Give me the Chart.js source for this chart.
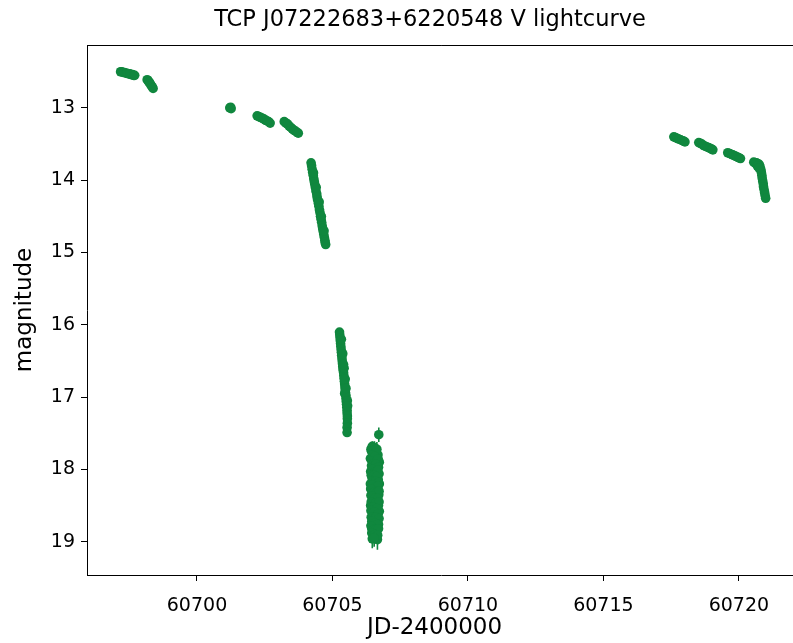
<!DOCTYPE html>
<html>
<head>
<meta charset="utf-8">
<script src="https://cdn.jsdelivr.net/npm/chart.js@4.4.1/dist/chart.umd.min.js"></script>
<style>
  html, body { margin: 0; padding: 0; background: #fff; overflow: hidden; }
  #lc { display: block; }
</style>
</head>
<body>
<canvas id="lc" width="800" height="643"></canvas>
<script>
var jd = [
  60697.18, 60697.22, 60697.27, 60697.32, 60697.37, 60697.42, 60697.47, 60697.52, 60697.57, 60697.62, 60697.66, 60697.70,
  60698.16, 60698.19, 60698.22, 60698.25, 60698.28, 60698.31, 60698.35, 60698.38,
  60701.21, 60701.24, 60701.26,
  60702.22, 60702.28, 60702.34, 60702.40, 60702.46, 60702.52, 60702.58, 60702.64, 60702.70,
  60703.22, 60703.28, 60703.34, 60703.40, 60703.46, 60703.52, 60703.58, 60703.64, 60703.70, 60703.74,
  60704.21, 60704.23, 60704.25, 60704.27, 60704.29, 60704.31, 60704.33, 60704.35, 60704.37, 60704.39,
  60704.42, 60704.43, 60704.45, 60704.48, 60704.50, 60704.52, 60704.54, 60704.56, 60704.58, 60704.60,
  60704.62, 60704.64, 60704.66, 60704.68, 60704.70, 60704.72, 60704.73, 60704.75,
  60704.30, 60704.40, 60704.51, 60704.59, 60704.69,
  60705.26, 60705.27, 60705.28, 60705.29, 60705.30, 60705.31, 60705.32, 60705.33, 60705.34, 60705.35,
  60705.36, 60705.37, 60705.38, 60705.39, 60705.41, 60705.42, 60705.43, 60705.44, 60705.45, 60705.46,
  60705.47, 60705.48, 60705.50, 60705.50, 60705.51, 60705.52, 60705.53, 60705.54, 60705.54, 60705.55,
  60705.55, 60705.55, 60705.54, 60705.54, 60705.43, 60705.45, 60705.55,
  60705.33, 60705.38, 60705.41, 60705.47, 60705.50, 60705.56,
  60706.42, 60706.47, 60706.55, 60706.71, 60706.68, 60706.40, 60706.50, 60706.60, 60706.73, 60706.44,
  60706.57, 60706.66, 60706.41, 60706.52, 60706.62, 60706.72, 60706.46, 60706.58, 60706.69, 60706.40,
  60706.51, 60706.63, 60706.73, 60706.45, 60706.55, 60706.67, 60706.42, 60706.60, 60706.71, 60706.48,
  60706.53, 60706.65, 60706.41, 60706.58, 60706.70, 60706.46, 60706.62, 60706.73, 60706.43, 60706.55,
  60706.67, 60706.49, 60706.61, 60706.70, 60706.45, 60706.57, 60706.65, 60706.50, 60706.62, 60706.47,
  60706.66,
  60706.44, 60706.52, 60706.60, 60706.64, 60706.48, 60706.56, 60706.45, 60706.64, 60706.69, 60706.48,
  60706.53, 60706.61, 60706.70, 60706.47, 60706.57, 60706.67, 60706.43, 60706.55, 60706.63, 60706.48,
  60706.60, 60706.70, 60706.46, 60706.57, 60706.68, 60706.41, 60706.51, 60706.63, 60706.72, 60706.46,
  60706.56, 60706.67, 60706.43, 60706.60, 60706.72, 60706.50, 60706.64, 60706.42, 60706.55, 60706.68,
  60706.48, 60706.61, 60706.72, 60706.45, 60706.56, 60706.66, 60706.42, 60706.53, 60706.61, 60706.70,
  60706.45, 60706.57, 60706.67, 60706.54,
  60717.60, 60717.66, 60717.72, 60717.78, 60717.84, 60717.90, 60717.96, 60718.01,
  60718.52, 60718.58, 60718.64, 60718.70, 60718.76, 60718.82, 60718.88, 60718.94, 60719.00, 60719.04,
  60719.59, 60719.65, 60719.71, 60719.77, 60719.83, 60719.89, 60719.95, 60720.01, 60720.06,
  60720.55, 60720.60, 60720.65, 60720.70, 60720.75, 60720.78, 60720.81, 60720.83, 60720.85, 60720.86,
  60720.88, 60720.90, 60720.91, 60720.93, 60720.95, 60720.97, 60720.99, 60720.68, 60720.74
];
var mag = [
  12.50, 12.50, 12.51, 12.51, 12.52, 12.52, 12.53, 12.53, 12.54, 12.54, 12.55, 12.55,
  12.61, 12.62, 12.64, 12.65, 12.67, 12.69, 12.71, 12.73,
  13.00, 12.99, 13.01,
  13.11, 13.12, 13.13, 13.14, 13.15, 13.17, 13.18, 13.19, 13.21,
  13.19, 13.21, 13.22, 13.25, 13.27, 13.29, 13.31, 13.32, 13.34, 13.35,
  13.76, 13.80, 13.85, 13.89, 13.93, 13.98, 14.02, 14.06, 14.10, 14.15,
  14.19, 14.23, 14.27, 14.32, 14.36, 14.41, 14.45, 14.50, 14.54, 14.58,
  14.63, 14.67, 14.71, 14.75, 14.79, 14.83, 14.86, 14.89,
  13.90, 14.10, 14.30, 14.50, 14.70,
  16.10, 16.14, 16.18, 16.22, 16.26, 16.30, 16.34, 16.38, 16.42, 16.46,
  16.50, 16.54, 16.58, 16.62, 16.66, 16.70, 16.74, 16.78, 16.82, 16.86,
  16.90, 16.94, 16.98, 17.02, 17.06, 17.10, 17.14, 17.18, 17.22, 17.26,
  17.30, 17.36, 17.42, 17.49, 16.60, 16.95, 17.05,
  16.20, 16.40, 16.55, 16.75, 16.88, 17.12,
  17.72, 17.68, 17.70, 17.52, 17.80, 17.85, 17.88, 17.84, 17.90, 17.95,
  17.98, 17.96, 18.03, 18.05, 18.02, 18.06, 18.12, 18.10, 18.14, 18.20,
  18.18, 18.22, 18.20, 18.28, 18.30, 18.27, 18.36, 18.38, 18.35, 18.42,
  18.45, 18.44, 18.50, 18.52, 18.50, 18.58, 18.60, 18.58, 18.66, 18.65,
  18.68, 18.74, 18.72, 18.76, 18.82, 18.80, 18.84, 18.90, 18.88, 18.96,
  18.97,
  17.75, 17.74, 17.76, 17.72, 17.80, 17.82, 17.88, 17.88, 17.86, 17.93,
  17.95, 17.93, 17.97, 18.00, 18.04, 18.01, 18.08, 18.08, 18.10, 18.16,
  18.16, 18.18, 18.22, 18.24, 18.23, 18.27, 18.32, 18.32, 18.30, 18.37,
  18.40, 18.40, 18.45, 18.46, 18.45, 18.52, 18.54, 18.57, 18.59, 18.62,
  18.66, 18.66, 18.68, 18.72, 18.74, 18.76, 18.78, 18.83, 18.83, 18.82,
  18.88, 18.90, 18.91, 18.95,
  13.40, 13.41, 13.42, 13.43, 13.44, 13.45, 13.46, 13.47,
  13.48, 13.49, 13.50, 13.52, 13.53, 13.54, 13.55, 13.56, 13.57, 13.58,
  13.62, 13.63, 13.64, 13.65, 13.66, 13.67, 13.68, 13.69, 13.70,
  13.75, 13.76, 13.76, 13.77, 13.78, 13.81, 13.85, 13.89, 13.93, 13.97,
  14.01, 14.05, 14.09, 14.13, 14.17, 14.21, 14.25, 13.80, 13.83
];
var err = [
  0.01, 0.01, 0.01, 0.01, 0.01, 0.01, 0.01, 0.01, 0.01, 0.01, 0.01, 0.01,
  0.01, 0.01, 0.01, 0.01, 0.01, 0.01, 0.01, 0.01,
  0.01, 0.01, 0.01,
  0.01, 0.01, 0.01, 0.01, 0.01, 0.01, 0.01, 0.01, 0.01,
  0.01, 0.01, 0.01, 0.01, 0.01, 0.01, 0.01, 0.01, 0.01, 0.01,
  0.02, 0.02, 0.02, 0.02, 0.02, 0.02, 0.02, 0.02, 0.02, 0.02,
  0.02, 0.02, 0.02, 0.02, 0.02, 0.02, 0.02, 0.02, 0.02, 0.02,
  0.02, 0.02, 0.02, 0.02, 0.02, 0.02, 0.02, 0.02,
  0.02, 0.02, 0.02, 0.02, 0.02,
  0.03, 0.03, 0.03, 0.03, 0.03, 0.03, 0.03, 0.03, 0.03, 0.03,
  0.03, 0.03, 0.03, 0.03, 0.03, 0.03, 0.03, 0.03, 0.03, 0.03,
  0.03, 0.03, 0.03, 0.03, 0.04, 0.04, 0.04, 0.04, 0.04, 0.04,
  0.04, 0.05, 0.05, 0.05, 0.03, 0.04, 0.04,
  0.03, 0.03, 0.03, 0.03, 0.03, 0.03,
  0.08, 0.07, 0.09, 0.10, 0.08, 0.07, 0.10, 0.08, 0.09, 0.06,
  0.11, 0.07, 0.08, 0.09, 0.10, 0.08, 0.07, 0.12, 0.09, 0.08,
  0.10, 0.07, 0.11, 0.09, 0.08, 0.10, 0.07, 0.12, 0.08, 0.09,
  0.10, 0.07, 0.11, 0.08, 0.09, 0.10, 0.07, 0.12, 0.08, 0.11,
  0.09, 0.10, 0.08, 0.12, 0.09, 0.11, 0.10, 0.12, 0.10, 0.13,
  0.14,
  0.08, 0.09, 0.08, 0.10, 0.07, 0.09, 0.08, 0.09, 0.10, 0.08,
  0.09, 0.08, 0.11, 0.09, 0.08, 0.10, 0.09, 0.08, 0.11, 0.09,
  0.10, 0.08, 0.10, 0.09, 0.11, 0.08, 0.10, 0.09, 0.10, 0.11,
  0.09, 0.10, 0.09, 0.11, 0.09, 0.10, 0.08, 0.10, 0.09, 0.11,
  0.10, 0.09, 0.12, 0.11, 0.10, 0.09, 0.12, 0.10, 0.11, 0.12,
  0.11, 0.12, 0.13, 0.12,
  0.01, 0.01, 0.01, 0.01, 0.01, 0.01, 0.01, 0.01,
  0.01, 0.01, 0.01, 0.01, 0.01, 0.01, 0.01, 0.01, 0.01, 0.01,
  0.01, 0.01, 0.01, 0.01, 0.01, 0.01, 0.01, 0.01, 0.01,
  0.01, 0.01, 0.01, 0.01, 0.01, 0.01, 0.01, 0.01, 0.01, 0.01,
  0.01, 0.01, 0.01, 0.01, 0.01, 0.01, 0.01, 0.01, 0.01
];
var xTicks = [60700, 60705, 60710, 60715, 60720];
var yTicks = [13, 14, 15, 16, 17, 18, 19];

var green = '#10873e';
var points = jd.map(function(t, i) { return {x: t, y: mag[i]}; });

// matplotlib-like error bars, drawn under the markers
var errorBars = {
  id: 'errorBars',
  beforeDatasetsDraw: function(chart) {
    var ctx = chart.ctx, xs = chart.scales.x, ys = chart.scales.y;
    ctx.save();
    ctx.strokeStyle = green;
    ctx.lineWidth = 1.6;
    ctx.beginPath();
    for (var i = 0; i < jd.length; i++) {
      var px = xs.getPixelForValue(jd[i]);
      ctx.moveTo(px, ys.getPixelForValue(mag[i] - err[i]));
      ctx.lineTo(px, ys.getPixelForValue(mag[i] + err[i]));
    }
    ctx.stroke();
    ctx.restore();
  }
};

// top frame line, title and x label (placed like the matplotlib figure)
var frame = {
  id: 'frame',
  afterDraw: function(chart) {
    var ctx = chart.ctx, a = chart.chartArea;
    ctx.save();
    ctx.strokeStyle = '#000';
    ctx.lineWidth = 1;
    ctx.beginPath();
    ctx.moveTo(a.left, a.top + 0.5);
    ctx.lineTo(a.right, a.top + 0.5);
    ctx.stroke();
    ctx.fillStyle = '#000';
    ctx.textAlign = 'center';
    ctx.textBaseline = 'middle';
    ctx.font = '22.5px "DejaVu Sans"';
    ctx.fillText('TCP J07222683+6220548 V lightcurve', 430, 20);
    ctx.font = '23px "DejaVu Sans"';
    ctx.fillText('JD-2400000', 434.5, 628);
    ctx.restore();
  }
};

new Chart(document.getElementById('lc'), {
  type: 'scatter',
  data: {
    datasets: [{
      data: points,
      backgroundColor: green,
      borderWidth: 0,
      pointRadius: 4.8,
      pointHoverRadius: 4.8
    }]
  },
  options: {
    responsive: false,
    animation: false,
    events: [],
    layout: { padding: { top: 45, right: 2, left: 0, bottom: 0 } },
    plugins: { legend: { display: false }, tooltip: { enabled: false } },
    scales: {
      x: {
        type: 'linear',
        min: 60695.94,
        max: 60722.08,
        afterFit: function(s) { s.height = 68; },
        afterBuildTicks: function(s) { s.ticks = xTicks.map(function(v) { return {value: v}; }); },
        grid: { drawOnChartArea: false, tickLength: 6, tickColor: '#000' },
        border: { color: '#000', width: 1 },
        ticks: { color: '#000', padding: 14, font: { family: 'DejaVu Sans', size: 19 }, maxRotation: 0,
                 callback: function(v) { return String(v); } }
      },
      y: {
        type: 'linear',
        reverse: true,
        min: 12.13,
        max: 19.46,
        afterFit: function(s) { s.width = 87; },
        afterBuildTicks: function(s) { s.ticks = yTicks.map(function(v) { return {value: v}; }); },
        grid: { drawOnChartArea: false, tickLength: 6, tickColor: '#000' },
        border: { color: '#000', width: 1 },
        ticks: { color: '#000', padding: 6, font: { family: 'DejaVu Sans', size: 19 } },
        title: { display: true, text: 'magnitude', color: '#000', font: { family: 'DejaVu Sans', size: 23 },
                 padding: { top: 11, bottom: 0 } }
      }
    }
  },
  plugins: [errorBars, frame]
});
</script>
</body>
</html>
